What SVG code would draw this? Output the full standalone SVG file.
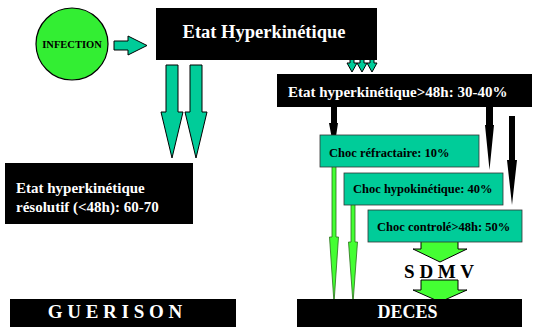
<svg xmlns="http://www.w3.org/2000/svg" width="547" height="331" viewBox="0 0 547 331">
<style>
.t{font-family:"Liberation Serif","Times New Roman",serif;font-weight:bold}
.w{fill:#fff}
.k{fill:#000}
.box{fill:#000}
.choc{fill:#00cc99;stroke:#333;stroke-width:0.8}
.teal{fill:#00cc99;stroke:#000;stroke-width:1}
.lime{fill:#44ff33;stroke:#2a6e1a;stroke-width:0.8}
.limeb{fill:#44ff33;stroke:#000;stroke-width:1}
.blk{fill:#000}
</style>
<rect width="547" height="331" fill="#fff"/>
<g id="connectors">
  <!-- infection arrow -->
  <polygon class="teal" points="114,41 128,41 128,36 147,45.5 128,55 128,50 114,50"/>
  <!-- big teal down arrows -->
  <polygon class="teal" points="166,65 178,65 178,112 183,112 172,158 161,112 166,112"/>
  <polygon class="teal" points="190,65 202,65 202,112 207,112 196,158 185,112 190,112"/>
  <!-- three small arrows -->
  <polygon class="teal" points="350,55 354,55 354,63 357,63 352,72 347,63 350,63"/>
  <polygon class="teal" points="360,55 364,55 364,63 367,63 362,72 357,63 360,63"/>
  <polygon class="teal" points="370,55 374,55 374,63 377,63 372,72 367,63 370,63"/>
  <!-- black arrows -->
  <polygon class="blk" points="331,107 337,107 337,123 338,123 334,150 329,123 331,123"/>
  <polygon class="blk" points="486,107 493,107 493,125 494,125 489.5,170 485,125 486,125"/>
  <polygon class="blk" points="509,116 515,116 515,160 517,160 512,205 507,160 509,160"/>
  <!-- thin green arrows -->
  <polygon class="lime" points="332,163 336,163 336,237 338.5,237 334,303 329.5,237 332,237"/>
  <polygon class="lime" points="351,201 355,201 355,242 357.5,242 353,303 348.5,242 351,242"/>
  <!-- fat green arrows -->
  <polygon class="limeb" points="421,238 458,238 458,249 467,249 440,262 413,249 421,249" stroke-width="0.6"/>
  <polygon class="limeb" points="421,280 458,280 458,290 467,290 440,302 413,290 421,290" stroke-width="0.6"/>
</g>
<g id="infection">
  <circle cx="72" cy="44" r="36" fill="#33ee33" stroke="#000" stroke-width="1.2"/>
  <text class="t k" x="72" y="48" font-size="10.5" text-anchor="middle">INFECTION</text>
</g>
<g id="etat-hyper">
  <rect class="box" x="156" y="8" width="221" height="52"/>
  <text class="t w" x="264" y="38" font-size="18.5" text-anchor="middle">Etat Hyperkinétique</text>
</g>
<g id="etat-48h">
  <rect class="box" x="277" y="74" width="255" height="33"/>
  <text class="t w" x="288" y="97" font-size="15">Etat hyperkinétique&gt;48h: 30-40%</text>
</g>
<g id="etat-resolutif">
  <rect class="box" x="5" y="163" width="188" height="61"/>
  <text class="t w" x="16" y="193" font-size="15">Etat hyperkinétique</text>
  <text class="t w" x="16" y="212" font-size="15">résolutif (&lt;48h): 60-70</text>
</g>
<g id="choc-refractaire">
  <rect class="choc" x="320" y="135" width="159" height="32"/>
  <text class="t k" x="329" y="157" font-size="12.5">Choc réfractaire: 10%</text>
</g>
<g id="choc-hypokinetique">
  <rect class="choc" x="344" y="173" width="159" height="32"/>
  <text class="t k" x="353" y="193" font-size="12.5">Choc hypokinétique: 40%</text>
</g>
<g id="choc-controle">
  <rect class="choc" x="368" y="210" width="154" height="32"/>
  <text class="t k" x="377" y="231" font-size="12.5">Choc controlé&gt;48h: 50%</text>
</g>
<g id="sdmv">
  <text class="t k" x="439" y="278" font-size="19" text-anchor="middle">S D M V</text>
</g>
<g id="guerison">
  <rect class="box" x="10" y="299" width="226" height="28"/>
  <text class="t w" x="115" y="318" font-size="19" text-anchor="middle">G U E R I S O N</text>
</g>
<g id="deces">
  <rect class="box" x="297" y="299" width="225" height="28"/>
  <text class="t w" x="407.5" y="318" font-size="18" text-anchor="middle">DECES</text>
</g>
</svg>
